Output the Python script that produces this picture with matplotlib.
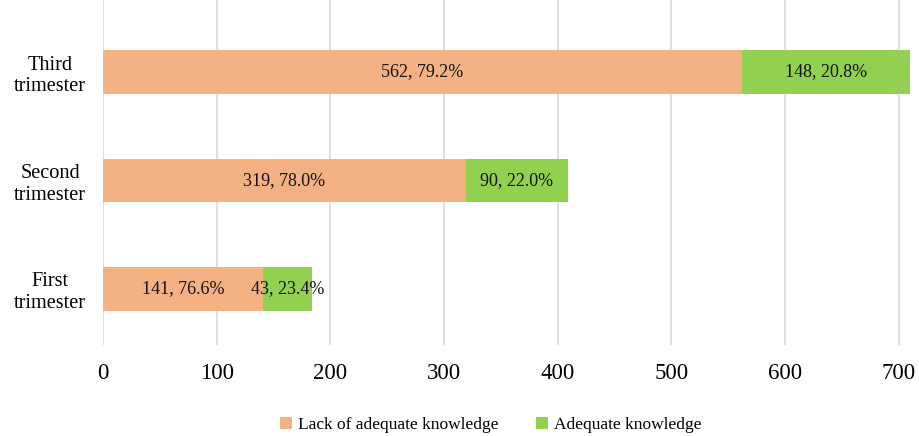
import matplotlib.pyplot as plt
import numpy as np

categories = ['First\ntrimester', 'Second\ntrimester', 'Third\ntrimester']
lack_counts = [141, 319, 562]
lack_pcts = [76.6, 78.0, 79.2]
adequate_counts = [43, 90, 148]
adequate_pcts = [23.4, 22.0, 20.8]

plt.rcParams['font.family'] = ['Liberation Serif', 'DejaVu Serif']

fig = plt.figure(figsize=(9.19, 4.36), dpi=100)
ax = fig.add_axes([0.112, 0.209, 0.881, 0.791])

y = np.arange(len(categories))
h = 0.405
b1 = ax.barh(y, lack_counts, height=h, color='#F4B183', label='Lack of adequate knowledge', zorder=2)
b2 = ax.barh(y, adequate_counts, left=lack_counts, height=h, color='#92D050', label='Adequate knowledge', zorder=2)

for i in range(len(categories)):
    ax.text(lack_counts[i] / 2, y[i], f'{lack_counts[i]}, {lack_pcts[i]:.1f}%',
            ha='center', va='center', fontsize=13, color='#111111', zorder=3)
    ax.text(lack_counts[i] + adequate_counts[i] / 2, y[i], f'{adequate_counts[i]}, {adequate_pcts[i]:.1f}%',
            ha='center', va='center', fontsize=13, color='#111111', zorder=3)

ax.set_xlim(0, 712)
ax.set_ylim(-0.516, 2.664)
ax.set_xticks(np.arange(0, 701, 100))
ax.set_yticks(y)
ax.set_yticklabels(categories, ha='center', fontsize=14.6)
ax.tick_params(axis='y', length=0, pad=38)
ax.tick_params(axis='x', length=0, pad=13, labelsize=16.5)
ax.xaxis.grid(True, color='#D9D9D9', linewidth=1.2, zorder=0)
ax.set_axisbelow(True)
for s in ax.spines.values():
    s.set_visible(False)

fig.legend(handles=[b1, b2], loc='center', bbox_to_anchor=(0.534, 0.025), ncol=2,
           frameon=False, fontsize=12.5, handlelength=0.7, handleheight=0.7,
           handletextpad=0.3, columnspacing=2.2)

fig.savefig('out.png', dpi=100)
